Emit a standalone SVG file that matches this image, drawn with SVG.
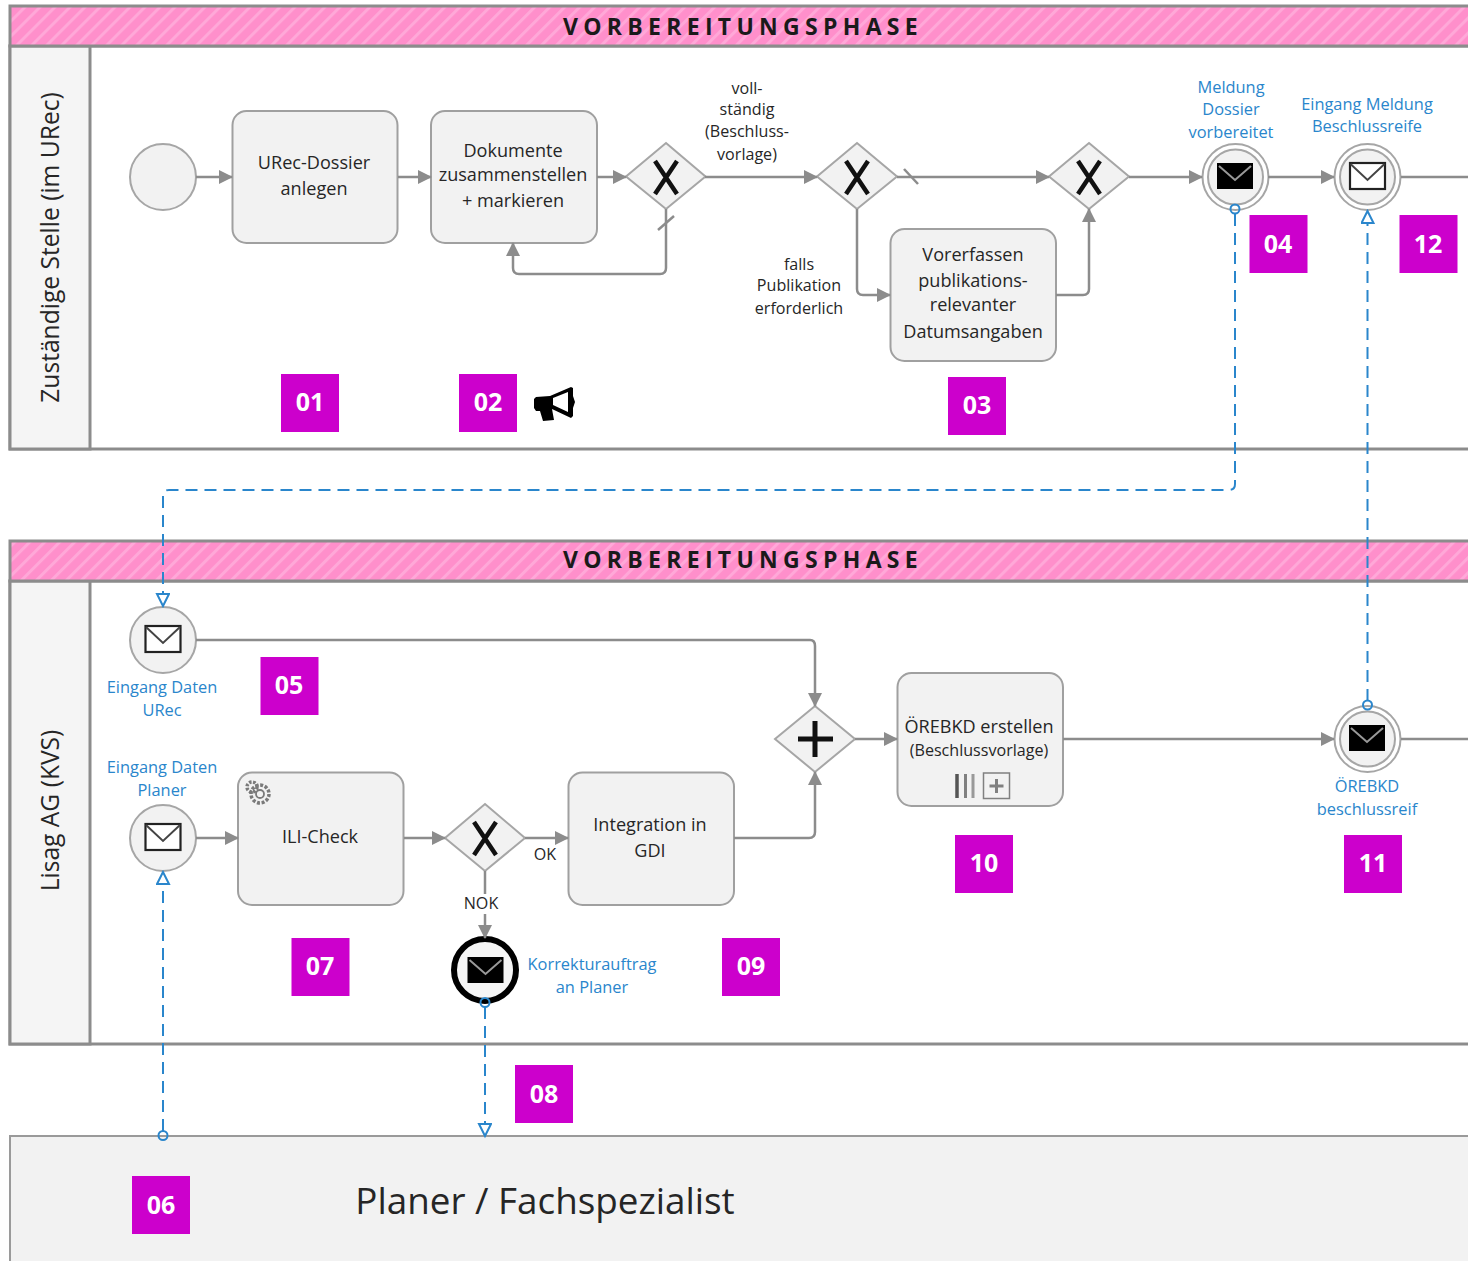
<svg xmlns="http://www.w3.org/2000/svg" width="1468" height="1261" viewBox="0 0 1468 1261">
<style>
text{font-family:"Open Sans","Noto Sans","Liberation Sans",sans-serif;text-anchor:middle;fill:#262626}
.t{font-size:18.100px}
.s{font-size:16.100px}
.b{font-size:16.400px;fill:#2a86cc}
.ph{font-size:23px;font-weight:700;letter-spacing:5.300px;fill:#1a1a1a}
.lane{font-size:24.600px}
.num{font-size:25px;font-weight:700;fill:#fff}
.badge{fill:#cc00cc}
.hdr{fill:url(#hatch);stroke:#8c8c8c;stroke-width:3}
.pool{fill:#fff;stroke:#8c8c8c;stroke-width:3}
.lanehd{fill:#f5f5f5;stroke:#8c8c8c;stroke-width:3}
.task{fill:#f2f2f2;stroke:#a0a0a0;stroke-width:2}
.ev{fill:#f2f2f2;stroke:#a6a6a6;stroke-width:2}
.gw{fill:#f2f2f2;stroke:#a6a6a6;stroke-width:2}
.mark{fill:none;stroke:#111;stroke-width:4.500}
.flow{fill:none;stroke:#8c8c8c;stroke-width:2.500}
.msg{fill:none;stroke:#2a86cc;stroke-width:2;stroke-dasharray:12 7}
.dot{fill:none;stroke:#2a86cc;stroke-width:2}
.envw{fill:#fff;stroke:#222;stroke-width:2.200}
.envwf{fill:none;stroke:#444;stroke-width:2}
.envb{fill:#000}
.envbf{fill:none;stroke:#999;stroke-width:2}
</style>
<defs>
<pattern id="hatch" width="10.600" height="10.600" patternUnits="userSpaceOnUse" patternTransform="rotate(45)">
<rect width="10.600" height="10.600" fill="#ff8fcb"/>
<rect width="3" height="10.600" fill="#ffa8d8"/>
</pattern>
<marker id="arr" markerUnits="userSpaceOnUse" markerWidth="14" markerHeight="14" refX="13" refY="7" orient="auto">
<path d="M0 0L14 7L0 14Z" fill="#8c8c8c"/>
</marker>
<marker id="open" markerUnits="userSpaceOnUse" markerWidth="16" markerHeight="16" refX="13" refY="7" orient="auto">
<path d="M1 1L13 7L1 13Z" fill="#fff" stroke="#2a86cc" stroke-width="2"/>
</marker>
<g id="envW"><rect x="-17.500" y="-13" width="35" height="26" class="envw"/><path d="M-17 -12L0 4L17 -12" class="envwf"/></g>
<g id="envB"><rect x="-18" y="-13" width="36" height="26" class="envb"/><path d="M-16 -10L0 4L16 -10" class="envbf"/></g>
</defs>

<g id="pool1">
<rect x="10" y="46" width="1470" height="403" class="pool"/>
<rect x="10" y="46" width="80" height="403" class="lanehd"/>
<rect x="10" y="6" width="1470" height="40" class="hdr"/>
<text class="ph" x="743" y="35">VORBEREITUNGSPHASE</text>
<text class="lane" transform="translate(59 247.500) rotate(-90)">Zuständige Stelle (im URec)</text>
</g>
<g id="pool2">
<rect x="10" y="581" width="1470" height="463" class="pool"/>
<rect x="10" y="581" width="80" height="463" class="lanehd"/>
<rect x="10" y="541" width="1470" height="40" class="hdr"/>
<text class="ph" x="743" y="568">VORBEREITUNGSPHASE</text>
<text class="lane" transform="translate(59 810.500) rotate(-90)">Lisag AG (KVS)</text>
</g>
<g id="pool3">
<rect x="10" y="1136" width="1470" height="140" fill="#f2f2f2" stroke="#9a9a9a" stroke-width="2"/>
<text x="545" y="1214" style="font-size:36.800px">Planer / Fachspezialist</text>
</g>

<g id="start"><circle cx="163" cy="177" r="33" class="ev"/></g>
<g id="task01"><rect x="232.500" y="111" width="165" height="132" rx="14" class="task"/><text class="t" x="314" y="169">URec-Dossier</text><text class="t" x="314" y="195">anlegen</text></g>
<g id="task02"><rect x="431" y="111" width="166" height="132" rx="14" class="task"/><text class="t" x="513" y="157">Dokumente</text><text class="t" x="513" y="181">zusammenstellen</text><text class="t" x="513" y="207">+ markieren</text></g>
<g id="gw1"><path d="M666 143L705.500 176.500L666 209L626 176.500Z" class="gw"/><path d="M655 161L677 194M677 161L655 194" class="mark"/></g>
<g id="gw2"><path d="M857 143L897 176.500L857 209L817 176.500Z" class="gw"/><path d="M846 161L868 194M868 161L846 194" class="mark"/></g>
<g id="gw3"><path d="M1089 143L1129 176.500L1089 209L1049 176.500Z" class="gw"/><path d="M1078 161L1100 194M1100 161L1078 194" class="mark"/></g>
<g id="task03"><rect x="890.500" y="229" width="165.500" height="132" rx="14" class="task"/><text class="t" x="973" y="261">Vorerfassen</text><text class="t" x="973" y="287">publikations-</text><text class="t" x="973" y="311">relevanter</text><text class="t" x="973" y="338">Datumsangaben</text></g>
<g id="lab-voll"><text class="s" x="747" y="94">voll-</text><text class="s" x="747" y="115">ständig</text><text class="s" x="747" y="137">(Beschluss-</text><text class="s" x="747" y="160">vorlage)</text></g>
<g id="lab-falls"><text class="s" x="799" y="270">falls</text><text class="s" x="799" y="291">Publikation</text><text class="s" x="799" y="314">erforderlich</text></g>
<g id="ev04"><circle cx="1235.500" cy="177" r="33" fill="#fff" stroke="#a6a6a6" stroke-width="2"/><circle cx="1235.500" cy="177" r="27.500" class="ev"/><use href="#envB" x="1235" y="176"/><text class="b" x="1231" y="93">Meldung</text><text class="b" x="1231" y="115">Dossier</text><text class="b" x="1231" y="138">vorbereitet</text></g>
<g id="ev12"><circle cx="1367.500" cy="177" r="33" fill="#fff" stroke="#a6a6a6" stroke-width="2"/><circle cx="1367.500" cy="177" r="27.500" class="ev"/><use href="#envW" x="1367.500" y="176"/><text class="b" x="1367" y="110">Eingang Meldung</text><text class="b" x="1367" y="132">Beschlussreife</text></g>
<g id="ev05"><circle cx="163" cy="640" r="33" class="ev"/><use href="#envW" x="163" y="639"/><text class="b" x="162" y="693">Eingang Daten</text><text class="b" x="162" y="716">URec</text></g>
<g id="ev06"><circle cx="163" cy="838" r="33" class="ev"/><use href="#envW" x="163" y="837"/><text class="b" x="162" y="773">Eingang Daten</text><text class="b" x="162" y="796">Planer</text></g>
<g id="task07"><rect x="238" y="772.500" width="165.500" height="132.500" rx="14" class="task"/><g fill="none" stroke="#7a7a7a"><circle cx="252" cy="787" r="5" stroke-width="3.500" stroke-dasharray="2.500 1.500"/><circle cx="260" cy="794" r="9" stroke-width="3.500" stroke-dasharray="3 1.700"/><circle cx="260" cy="794" r="4" stroke-width="1.800"/></g><text class="t" x="320" y="843">ILI-Check</text></g>
<g id="gw4"><path d="M485 804L525 838L485 871L445 838Z" class="gw"/><path d="M474 822L496 855M496 822L474 855" class="mark"/><text class="s" x="545" y="860">OK</text><text class="s" x="481" y="909">NOK</text></g>
<g id="ev08"><circle cx="485" cy="970" r="31" fill="#f5f5f5" stroke="#000" stroke-width="6"/><use href="#envB" x="485.500" y="970"/><text class="b" x="592" y="970">Korrekturauftrag</text><text class="b" x="592" y="993">an Planer</text></g>
<g id="task09"><rect x="568.500" y="772.500" width="165.500" height="132.500" rx="14" class="task"/><text class="t" x="650" y="831">Integration in</text><text class="t" x="650" y="857">GDI</text></g>
<g id="gw5"><path d="M815 706L855 739L815 772L775 739Z" class="gw"/><path d="M815 721V757M798 739H833" fill="none" stroke="#111" stroke-width="5"/></g>
<g id="task10"><rect x="897.500" y="673" width="165.500" height="133" rx="14" class="task"/><text class="t" x="979" y="733">ÖREBKD erstellen</text><text class="s" x="979" y="756">(Beschlussvorlage)</text><path d="M957 774V798" stroke="#555" stroke-width="3.500"/><path d="M965.500 774V798" stroke="#808080" stroke-width="3"/><path d="M973 774V798" stroke="#999" stroke-width="3"/><rect x="983.500" y="773" width="26" height="25.500" fill="none" stroke="#808080" stroke-width="1.500"/><path d="M996.500 779V793M989.500 786H1003.500" stroke="#808080" stroke-width="3"/></g>
<g id="ev11"><circle cx="1367.500" cy="739" r="33" fill="#fff" stroke="#a6a6a6" stroke-width="2"/><circle cx="1367.500" cy="739" r="27.500" class="ev"/><use href="#envB" x="1367" y="738"/><text class="b" x="1367" y="792">ÖREBKD</text><text class="b" x="1367" y="815">beschlussreif</text></g>

<g id="connectors">
<path class="flow" marker-end="url(#arr)" d="M196 177H232"/>
<path class="flow" marker-end="url(#arr)" d="M398 177H431"/>
<path class="flow" marker-end="url(#arr)" d="M597 177H626"/>
<path class="flow" marker-end="url(#arr)" d="M666 209V268Q666 274 660 274H519Q513 274 513 268V243"/>
<path class="flow" d="M658 230L674 216" stroke-width="2"/>
<path class="flow" marker-end="url(#arr)" d="M705 177H817"/>
<path class="flow" marker-end="url(#arr)" d="M897 177H1049"/>
<path class="flow" d="M904 169L918 184" stroke-width="2"/>
<path class="flow" marker-end="url(#arr)" d="M857 209V289Q857 295 863 295H890"/>
<path class="flow" marker-end="url(#arr)" d="M1056 295H1083Q1089 295 1089 289V209"/>
<path class="flow" marker-end="url(#arr)" d="M1129 177H1202"/>
<path class="flow" marker-end="url(#arr)" d="M1268 177H1334"/>
<path class="flow" d="M1401 177H1468"/>
<path class="flow" marker-end="url(#arr)" d="M196 640H810Q815 640 815 646V706"/>
<path class="flow" marker-end="url(#arr)" d="M196 838H238"/>
<path class="flow" marker-end="url(#arr)" d="M404 838H445"/>
<path class="flow" marker-end="url(#arr)" d="M525 838H568"/>
<path class="flow" d="M485 871V894"/>
<path class="flow" marker-end="url(#arr)" d="M485 914V938"/>
<path class="flow" marker-end="url(#arr)" d="M734 838H809Q815 838 815 832V772"/>
<path class="flow" marker-end="url(#arr)" d="M855 739H897"/>
<path class="flow" marker-end="url(#arr)" d="M1063 739H1334"/>
<path class="flow" d="M1401 739H1468"/>
<path class="msg" marker-end="url(#open)" d="M1235 214V484Q1235 490 1229 490H169Q163 490 163 496V606"/>
<circle cx="1235" cy="209" r="4.500" class="dot"/>
<path class="msg" marker-end="url(#open)" d="M1367.500 701V211"/>
<circle cx="1367.500" cy="705" r="4.500" class="dot"/>
<path class="msg" marker-end="url(#open)" d="M163 1131V872"/>
<circle cx="163" cy="1135.500" r="4.500" class="dot"/>
<path class="msg" marker-end="url(#open)" d="M485 1007V1136"/>
<circle cx="485" cy="1002.500" r="4.500" class="dot"/>
</g>

<g id="megaphone"><path d="M536 397L550 396L571 387L573 388L573 396L575 402L573 408L573 416L571 418L552 409L554 420L543 421L540 411L536 411L534 408L534 399Z M553 398L568 392V412L553 405Z" fill="#000" fill-rule="evenodd"/></g>
<g id="badges">
<g id="b01"><rect class="badge" x="281" y="374" width="58" height="58"/><text class="num" x="310" y="411">01</text></g>
<g id="b02"><rect class="badge" x="459" y="374" width="58" height="58"/><text class="num" x="488" y="411">02</text></g>
<g id="b03"><rect class="badge" x="948" y="377" width="58" height="58"/><text class="num" x="977" y="414">03</text></g>
<g id="b04"><rect class="badge" x="1249.500" y="215" width="58" height="58"/><text class="num" x="1278" y="253">04</text></g>
<g id="b12"><rect class="badge" x="1399.500" y="215" width="58" height="58"/><text class="num" x="1428" y="253">12</text></g>
<g id="b05"><rect class="badge" x="260.500" y="657" width="58" height="58"/><text class="num" x="289" y="694">05</text></g>
<g id="b06"><rect class="badge" x="132" y="1176" width="58" height="58"/><text class="num" x="161" y="1214">06</text></g>
<g id="b07"><rect class="badge" x="291.500" y="938" width="58" height="58"/><text class="num" x="320" y="975">07</text></g>
<g id="b08"><rect class="badge" x="515" y="1065" width="58" height="58"/><text class="num" x="544" y="1103">08</text></g>
<g id="b09"><rect class="badge" x="722" y="938" width="58" height="58"/><text class="num" x="751" y="975">09</text></g>
<g id="b10"><rect class="badge" x="955" y="835" width="58" height="58"/><text class="num" x="984" y="872">10</text></g>
<g id="b11"><rect class="badge" x="1344" y="835" width="58" height="58"/><text class="num" x="1373" y="872">11</text></g>
</g>
</svg>
